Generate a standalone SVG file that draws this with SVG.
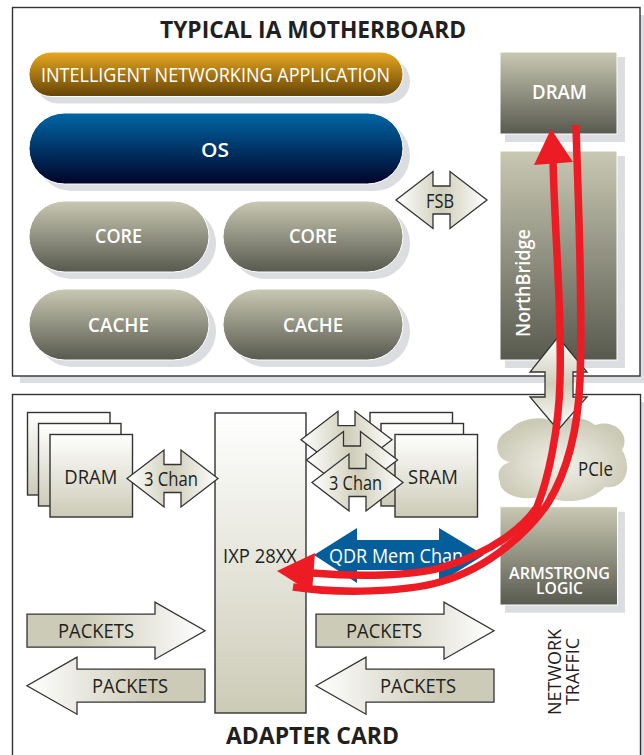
<svg xmlns="http://www.w3.org/2000/svg" width="644" height="755" viewBox="0 0 644 755">
<style>
text{font-family:"Open Sans","Noto Sans","Liberation Sans",sans-serif;font-size:20px;fill:#231f20}
.w{fill:#fff;font-weight:600}
.t{font-size:24px;font-weight:700}
.box{fill:#fff;stroke:#333;stroke-width:1.4}
.sh{fill:#dcdde0}
.dark{fill:url(#gDark);stroke:#fff;stroke-width:1}
.light{fill:url(#gLight);stroke:#333;stroke-width:1.4}
.dbl{fill:url(#gDbl);stroke:#333;stroke-width:1.3}
.pr{fill:url(#gPR);stroke:#333;stroke-width:1.3}
.pl{fill:url(#gPL);stroke:#333;stroke-width:1.3}
.red{fill:none;stroke:#ed1c24;stroke-width:7.5}
.redh{fill:#ed1c24}
</style>
<defs>
<linearGradient id="gDark" x1="0" y1="0" x2="0" y2="1"><stop offset="0" stop-color="#c9c8b3"/><stop offset="1" stop-color="#585a4f"/></linearGradient>
<linearGradient id="gGold" x1="0" y1="0" x2="0" y2="1"><stop offset="0" stop-color="#e8a820"/><stop offset="1" stop-color="#654406"/></linearGradient>
<linearGradient id="gBlue" x1="0" y1="0" x2="0" y2="1"><stop offset="0" stop-color="#0066a6"/><stop offset="1" stop-color="#000428"/></linearGradient>
<linearGradient id="gLight" x1="0" y1="0" x2="0" y2="1"><stop offset="0" stop-color="#ffffff"/><stop offset="1" stop-color="#cccbb7"/></linearGradient>
<linearGradient id="gDbl" x1="0" y1="0" x2="1" y2="0"><stop offset="0" stop-color="#ffffff"/><stop offset=".5" stop-color="#cfceba"/><stop offset="1" stop-color="#ffffff"/></linearGradient>
<linearGradient id="gDblV" x1="0" y1="0" x2="0" y2="1"><stop offset="0" stop-color="#ffffff"/><stop offset=".5" stop-color="#cfceba"/><stop offset="1" stop-color="#ffffff"/></linearGradient>
<linearGradient id="gPR" x1="0" y1="0" x2="1" y2="0"><stop offset="0" stop-color="#cccbb7"/><stop offset=".3" stop-color="#cccbb7"/><stop offset="1" stop-color="#ffffff"/></linearGradient>
<linearGradient id="gPL" x1="1" y1="0" x2="0" y2="0"><stop offset="0" stop-color="#cccbb7"/><stop offset=".3" stop-color="#cccbb7"/><stop offset="1" stop-color="#ffffff"/></linearGradient>
<radialGradient id="gCloud" cx=".5" cy=".55" r=".55"><stop offset="0" stop-color="#f2f1ea"/><stop offset="1" stop-color="#cbcab6"/></radialGradient>
<path id="dbl" d="M0,0 L37,-28.5 V-14 H54 V-28.5 L91,0 L54,28.5 V14 H37 V28.5 Z"/>
<path id="pktR" d="M0,-16.5 H128 V-28.5 L178,0 L128,28.5 V16.5 H0 Z"/>
<path id="pktL" d="M178,-16.5 H50 V-28.5 L0,0 L50,28.5 V16.5 H178 Z"/>
</defs>

<g id="motherboard">
<rect class="sh" x="20" y="15" width="624" height="368"/>
<rect class="box" x="12.5" y="7.5" width="627.5" height="368.5"/>
<text class="t" x="160" y="38" textLength="306" lengthAdjust="spacingAndGlyphs">TYPICAL IA MOTHERBOARD</text>
</g>
<g id="adapter-card">
<rect class="sh" x="20" y="402" width="624" height="353"/>
<rect class="box" x="12.5" y="394.5" width="628" height="370"/>
<text class="t" x="226" y="744" textLength="173" lengthAdjust="spacingAndGlyphs">ADAPTER CARD</text>
</g>

<g id="app">
<rect class="sh" x="36" y="59" width="374" height="44.5" rx="22"/>
<rect x="29" y="52" width="374" height="44.5" rx="22" fill="url(#gGold)" stroke="#fff" stroke-width="1"/>
<text class="w" x="41" y="81.7" textLength="349" lengthAdjust="spacingAndGlyphs" style="font-weight:400">INTELLIGENT NETWORKING APPLICATION</text>
</g>
<g id="os">
<rect class="sh" x="36" y="120" width="374" height="71" rx="35.5"/>
<rect x="29" y="113" width="374" height="71" rx="35.5" fill="url(#gBlue)" stroke="#fff" stroke-width="1"/>
<text class="w" x="201" y="156.7" textLength="28" lengthAdjust="spacingAndGlyphs">OS</text>
</g>
<g id="core1">
<rect class="sh" x="36" y="208" width="180" height="71" rx="35.5"/>
<rect class="dark" x="29" y="201" width="180" height="71" rx="35.5"/>
<text class="w" x="95" y="242.7" textLength="47" lengthAdjust="spacingAndGlyphs">CORE</text>
</g>
<g id="core2">
<rect class="sh" x="230" y="208" width="180" height="71" rx="35.5"/>
<rect class="dark" x="223" y="201" width="180" height="71" rx="35.5"/>
<text class="w" x="289" y="242.7" textLength="48" lengthAdjust="spacingAndGlyphs">CORE</text>
</g>
<g id="cache1">
<rect class="sh" x="36" y="296" width="180" height="71" rx="35.5"/>
<rect class="dark" x="29" y="289" width="180" height="71" rx="35.5"/>
<text class="w" x="88" y="331.7" textLength="61" lengthAdjust="spacingAndGlyphs">CACHE</text>
</g>
<g id="cache2">
<rect class="sh" x="230" y="296" width="180" height="71" rx="35.5"/>
<rect class="dark" x="223" y="289" width="180" height="71" rx="35.5"/>
<text class="w" x="283" y="331.7" textLength="60" lengthAdjust="spacingAndGlyphs">CACHE</text>
</g>
<g id="dram-top">
<rect class="sh" x="505" y="57" width="120" height="85"/>
<rect class="dark" x="500" y="52" width="117" height="82"/>
<text class="w" x="532" y="99" textLength="55" lengthAdjust="spacingAndGlyphs">DRAM</text>
</g>
<g id="northbridge">
<rect class="sh" x="505" y="156" width="120" height="212"/>
<rect class="dark" x="500" y="151" width="117" height="209"/>
<text class="w" transform="translate(530,337) rotate(-90)" textLength="108" lengthAdjust="spacingAndGlyphs">NorthBridge</text>
</g>

<g id="dram-stack">
<rect class="light" x="27.5" y="412.5" width="82.5" height="82.5"/>
<rect class="light" x="38.5" y="423.5" width="82.5" height="82.5"/>
<rect class="light" x="50" y="434.5" width="82.5" height="82.5"/>
<text x="64.3" y="484" textLength="53" lengthAdjust="spacingAndGlyphs">DRAM</text>
</g>
<g id="ixp">
<rect class="light" x="215" y="413" width="91" height="300"/>
<text x="223" y="563" textLength="74" lengthAdjust="spacingAndGlyphs">IXP 28XX</text>
</g>
<g id="sram-stack">
<rect class="light" x="370" y="412.5" width="82.5" height="82.5"/>
<rect class="light" x="381" y="423.5" width="82.5" height="82.5"/>
<rect class="light" x="395" y="434.5" width="82.5" height="82.5"/>
<text x="408" y="484" textLength="50" lengthAdjust="spacingAndGlyphs">SRAM</text>
</g>
<g id="pcie">
<path d="M510,462 C494,460 492,436 510,430 C520,417 545,415 556,423 C570,415 585,417 595,425 C615,418 631,435 622,450 C632,465 628,490 605,487 C590,503 560,505 545,495 C525,503 500,495 500,482 C496,473 500,465 510,462 Z" fill="url(#gCloud)"/>
<text x="578" y="476" textLength="35" lengthAdjust="spacingAndGlyphs">PCIe</text>
</g>
<g id="armstrong">
<rect class="sh" x="505" y="511.7" width="120" height="101"/>
<rect class="dark" x="500" y="506.7" width="117.5" height="98.3"/>
<text class="w" x="509" y="579" textLength="101" lengthAdjust="spacingAndGlyphs" style="font-size:16.5px">ARMSTRONG</text>
<text class="w" x="536" y="594" textLength="47" lengthAdjust="spacingAndGlyphs" style="font-size:16.5px">LOGIC</text>
</g>
<g id="network-traffic">
<text transform="translate(561,715) rotate(-90)" textLength="86" lengthAdjust="spacingAndGlyphs" style="font-size:19px">NETWORK</text>
<text transform="translate(579,705) rotate(-90)" textLength="67" lengthAdjust="spacingAndGlyphs" style="font-size:19px">TRAFFIC</text>
</g>

<g id="connectors">
<g id="fsb">
<use href="#dbl" class="dbl" x="396" y="200"/>
<text x="426" y="207.7" textLength="28" lengthAdjust="spacingAndGlyphs">FSB</text>
</g>
<path id="pcie-link" d="M558,337 L587,372 H573 V397 H587 L558,430 L530,397 H545 V372 H530 Z" fill="url(#gDblV)" stroke="#333" stroke-width="1.3"/>
<g id="dram-chan">
<use href="#dbl" class="dbl" x="127" y="478.5"/>
<text x="144" y="486" textLength="54" lengthAdjust="spacingAndGlyphs">3 Chan</text>
</g>
<g id="sram-chan">
<use href="#dbl" class="dbl" x="301" y="439.7"/>
<use href="#dbl" class="dbl" x="306.500" y="460"/>
<use href="#dbl" class="dbl" x="312" y="482.5"/>
<text x="329" y="490" textLength="53" lengthAdjust="spacingAndGlyphs">3 Chan</text>
</g>
<g id="qdr">
<path d="M314,555 L357,528 V540 H439 V528 L484,555 L439,583 V570 H357 V583 Z" fill="#045e9b"/>
<text x="329" y="563" textLength="134" lengthAdjust="spacingAndGlyphs" style="fill:#fff">QDR Mem Chan</text>
</g>
<g id="packets">
<use href="#pktR" class="pr" x="27" y="630.7"/>
<text x="58" y="638" textLength="76" lengthAdjust="spacingAndGlyphs">PACKETS</text>
<use href="#pktL" class="pl" x="27" y="685.7"/>
<text x="92" y="693" textLength="76" lengthAdjust="spacingAndGlyphs">PACKETS</text>
<use href="#pktR" class="pr" x="316" y="630.7"/>
<text x="346" y="638" textLength="76" lengthAdjust="spacingAndGlyphs">PACKETS</text>
<use href="#pktL" class="pl" x="316" y="685.7"/>
<text x="380" y="693" textLength="76" lengthAdjust="spacingAndGlyphs">PACKETS</text>
</g>
<g id="traffic">
<path class="red" d="M576,125 C578,200 583,300 580,380 C578,430 568,470 548,503 C530,530 490,568 440,582 C405,592 340,594 293,587"/>
<path class="red" d="M553,160 C555,240 562,310 560,380 C559,430 548,480 537,507 C525,525 495,552 440,568 C410,576 360,577 312,573"/>
<polygon class="redh" points="551,129 534,165 573,162"/>
<polygon class="redh" points="277,571 315,553 312,593"/>
</g>
</g>
</svg>
